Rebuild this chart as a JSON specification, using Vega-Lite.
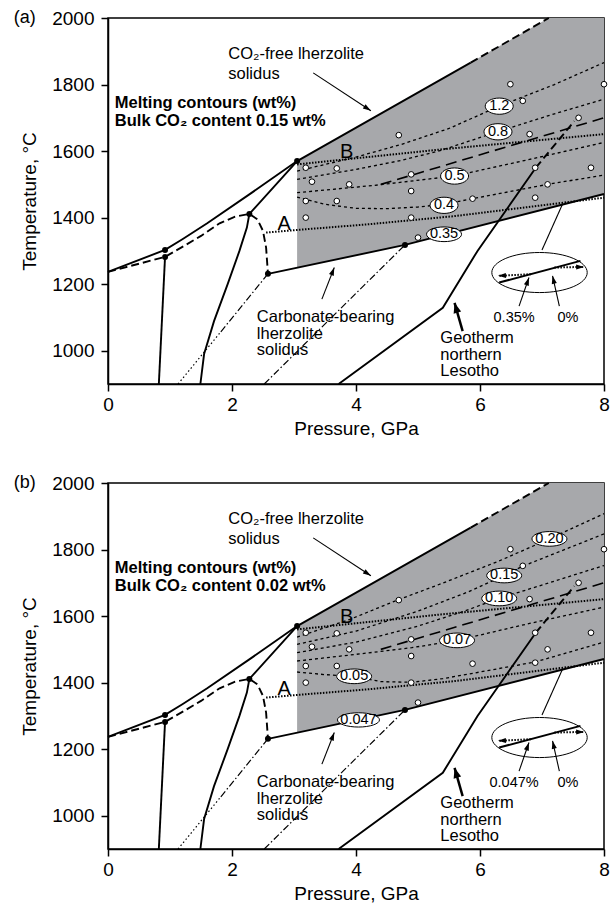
{
"$schema": "https://vega.github.io/schema/vega-lite/v6.json",
"padding": {"left": 13, "top": 8, "right": 2, "bottom": 2},
"data": {"values": [
{"panel":["a","b"],"id":"gray","p":3.05,"t":1570,"t2":1249.5},
{"panel":["a","b"],"id":"gray","p":4.79,"t":1753.9,"t2":1318},
{"panel":["a","b"],"id":"gray","p":7.11,"t":2000,"t2":1428.6},
{"panel":["a","b"],"id":"gray","p":8,"t":2000,"t2":1471},

{"panel":["a","b"],"id":"co2","i":0,"p":0,"t":1237},
{"panel":["a","b"],"id":"co2","i":1,"p":0.92,"t":1303},
{"panel":["a","b"],"id":"co2","i":2,"p":1.2,"t":1335},
{"panel":["a","b"],"id":"co2","i":3,"p":1.6,"t":1383},
{"panel":["a","b"],"id":"co2","i":4,"p":2.28,"t":1470},
{"panel":["a","b"],"id":"co2","i":5,"p":3.05,"t":1570},
{"panel":["a","b"],"id":"co2","i":6,"p":5.85,"t":1866},
{"panel":["a","b"],"id":"co2ext","i":0,"p":5.85,"t":1866},
{"panel":["a","b"],"id":"co2ext","i":1,"p":7.11,"t":2000},
{"panel":["a","b"],"id":"vert","i":0,"p":0.82,"t":900},
{"panel":["a","b"],"id":"vert","i":1,"p":0.92,"t":1282},
{"panel":["a","b"],"id":"curve","i":0,"p":1.49,"t":900},
{"panel":["a","b"],"id":"curve","i":1,"p":1.55,"t":990},
{"panel":["a","b"],"id":"curve","i":2,"p":1.71,"t":1089},
{"panel":["a","b"],"id":"curve","i":3,"p":1.93,"t":1200},
{"panel":["a","b"],"id":"curve","i":4,"p":2.12,"t":1300},
{"panel":["a","b"],"id":"curve","i":5,"p":2.24,"t":1370},
{"panel":["a","b"],"id":"curve","i":6,"p":2.28,"t":1411},
{"panel":["a","b"],"id":"curve","i":7,"p":3.05,"t":1570},
{"panel":["a","b"],"id":"carb","i":0,"p":2.58,"t":1231},
{"panel":["a","b"],"id":"carb","i":1,"p":4.79,"t":1318},
{"panel":["a","b"],"id":"carb","i":2,"p":8,"t":1471},
{"panel":["a","b"],"id":"geo","i":0,"p":3.72,"t":900},
{"panel":["a","b"],"id":"geo","i":1,"p":5.4,"t":1129},
{"panel":["a","b"],"id":"geo","i":2,"p":5.96,"t":1300},
{"panel":["a","b"],"id":"geo","i":3,"p":6.9,"t":1550},
{"panel":["a","b"],"id":"geoext","i":0,"p":6.9,"t":1550},
{"panel":["a","b"],"id":"geoext","i":1,"p":7.52,"t":1690},
{"panel":["a","b"],"id":"dcurve","i":0,"p":0,"t":1237},
{"panel":["a","b"],"id":"dcurve","i":1,"p":0.92,"t":1282},
{"panel":["a","b"],"id":"dcurve","i":2,"p":1.2,"t":1312},
{"panel":["a","b"],"id":"dcurve","i":3,"p":1.5,"t":1345},
{"panel":["a","b"],"id":"dcurve","i":4,"p":1.8,"t":1383},
{"panel":["a","b"],"id":"dcurve","i":5,"p":2.05,"t":1403},
{"panel":["a","b"],"id":"dcurve","i":6,"p":2.28,"t":1411},
{"panel":["a","b"],"id":"dcurve","i":7,"p":2.41,"t":1395},
{"panel":["a","b"],"id":"dcurve","i":8,"p":2.5,"t":1360},
{"panel":["a","b"],"id":"dcurve","i":9,"p":2.55,"t":1310},
{"panel":["a","b"],"id":"dcurve","i":10,"p":2.58,"t":1231},
{"panel":["a","b"],"id":"dd1","i":0,"p":1.82,"t":1057},
{"panel":["a","b"],"id":"dd1","i":1,"p":2.58,"t":1231},
{"panel":["a","b"],"id":"dt1","i":0,"p":1.13,"t":900},
{"panel":["a","b"],"id":"dt1","i":1,"p":1.82,"t":1057},
{"panel":["a","b"],"id":"dd2","i":0,"p":2.52,"t":900},
{"panel":["a","b"],"id":"dd2","i":1,"p":4.79,"t":1318},
{"panel":["a","b"],"id":"lineA","i":0,"p":2.55,"t":1355},
{"panel":["a","b"],"id":"lineA","i":1,"p":3.05,"t":1363},
{"panel":["a","b"],"id":"lineA","i":2,"p":4.2,"t":1380},
{"panel":["a","b"],"id":"lineA","i":3,"p":5.61,"t":1405},
{"panel":["a","b"],"id":"lineA","i":4,"p":8,"t":1460},
{"panel":["a","b"],"id":"lineB","i":0,"p":3.05,"t":1560},
{"panel":["a","b"],"id":"lineB","i":1,"p":5.37,"t":1605},
{"panel":["a","b"],"id":"lineB","i":2,"p":8,"t":1651},
{"panel":["a","b"],"id":"longdash","i":0,"p":4.4,"t":1500},
{"panel":["a","b"],"id":"longdash","i":1,"p":8,"t":1700},

{"panel":["a"],"id":"c1.2","i":0,"p":3.05,"t":1540},
{"panel":["a"],"id":"c1.2","i":1,"p":4.0,"t":1582},
{"panel":["a"],"id":"c1.2","i":2,"p":4.73,"t":1620},
{"panel":["a"],"id":"c1.2","i":3,"p":5.5,"t":1668},
{"panel":["a"],"id":"c1.2","i":4,"p":6.31,"t":1735},
{"panel":["a"],"id":"c1.2","i":5,"p":7.2,"t":1800},
{"panel":["a"],"id":"c1.2","i":6,"p":8,"t":1866},
{"panel":["a"],"id":"c0.8","i":0,"p":3.05,"t":1515},
{"panel":["a"],"id":"c0.8","i":1,"p":4.0,"t":1545},
{"panel":["a"],"id":"c0.8","i":2,"p":4.73,"t":1572},
{"panel":["a"],"id":"c0.8","i":3,"p":5.37,"t":1602},
{"panel":["a"],"id":"c0.8","i":4,"p":6.28,"t":1658},
{"panel":["a"],"id":"c0.8","i":5,"p":7.2,"t":1712},
{"panel":["a"],"id":"c0.8","i":6,"p":8,"t":1756},
{"panel":["a"],"id":"c0.5","i":0,"p":3.05,"t":1475},
{"panel":["a"],"id":"c0.5","i":1,"p":4.3,"t":1497},
{"panel":["a"],"id":"c0.5","i":2,"p":5.58,"t":1525},
{"panel":["a"],"id":"c0.5","i":3,"p":6.8,"t":1575},
{"panel":["a"],"id":"c0.5","i":4,"p":8,"t":1626},
{"panel":["a"],"id":"c0.4","i":0,"p":3.05,"t":1462},
{"panel":["a"],"id":"c0.4","i":1,"p":3.5,"t":1440},
{"panel":["a"],"id":"c0.4","i":2,"p":4.0,"t":1428},
{"panel":["a"],"id":"c0.4","i":3,"p":4.5,"t":1427},
{"panel":["a"],"id":"c0.4","i":4,"p":5.0,"t":1432},
{"panel":["a"],"id":"c0.4","i":5,"p":5.42,"t":1440},
{"panel":["a"],"id":"c0.4","i":6,"p":5.88,"t":1457},
{"panel":["a"],"id":"c0.4","i":7,"p":7.09,"t":1500},
{"panel":["a"],"id":"c0.4","i":8,"p":8,"t":1528},

{"panel":["b"],"id":"c0.20","i":0,"p":3.05,"t":1537},
{"panel":["b"],"id":"c0.20","i":1,"p":3.9,"t":1590},
{"panel":["b"],"id":"c0.20","i":2,"p":4.68,"t":1649},
{"panel":["b"],"id":"c0.20","i":3,"p":5.37,"t":1697},
{"panel":["b"],"id":"c0.20","i":4,"p":6.3,"t":1765},
{"panel":["b"],"id":"c0.20","i":5,"p":7.12,"t":1832},
{"panel":["b"],"id":"c0.20","i":6,"p":8,"t":1908},
{"panel":["b"],"id":"c0.15","i":0,"p":3.05,"t":1515},
{"panel":["b"],"id":"c0.15","i":1,"p":4.0,"t":1555},
{"panel":["b"],"id":"c0.15","i":2,"p":5.0,"t":1615},
{"panel":["b"],"id":"c0.15","i":3,"p":5.8,"t":1672},
{"panel":["b"],"id":"c0.15","i":4,"p":6.39,"t":1722},
{"panel":["b"],"id":"c0.15","i":5,"p":6.69,"t":1750},
{"panel":["b"],"id":"c0.15","i":6,"p":8,"t":1847},
{"panel":["b"],"id":"c0.10","i":0,"p":3.05,"t":1490},
{"panel":["b"],"id":"c0.10","i":1,"p":4.0,"t":1522},
{"panel":["b"],"id":"c0.10","i":2,"p":5.0,"t":1570},
{"panel":["b"],"id":"c0.10","i":3,"p":5.7,"t":1612},
{"panel":["b"],"id":"c0.10","i":4,"p":6.31,"t":1653},
{"panel":["b"],"id":"c0.10","i":5,"p":7.2,"t":1705},
{"panel":["b"],"id":"c0.10","i":6,"p":8,"t":1752},
{"panel":["b"],"id":"c0.07","i":0,"p":3.05,"t":1465},
{"panel":["b"],"id":"c0.07","i":1,"p":4.0,"t":1485},
{"panel":["b"],"id":"c0.07","i":2,"p":4.9,"t":1505},
{"panel":["b"],"id":"c0.07","i":3,"p":5.63,"t":1527},
{"panel":["b"],"id":"c0.07","i":4,"p":6.8,"t":1578},
{"panel":["b"],"id":"c0.07","i":5,"p":8,"t":1627},
{"panel":["b"],"id":"c0.05","i":0,"p":3.05,"t":1432},
{"panel":["b"],"id":"c0.05","i":1,"p":3.5,"t":1424},
{"panel":["b"],"id":"c0.05","i":2,"p":3.97,"t":1419},
{"panel":["b"],"id":"c0.05","i":3,"p":4.4,"t":1403},
{"panel":["b"],"id":"c0.05","i":4,"p":4.9,"t":1401},
{"panel":["b"],"id":"c0.05","i":5,"p":5.4,"t":1412},
{"panel":["b"],"id":"c0.05","i":6,"p":6.0,"t":1432},
{"panel":["b"],"id":"c0.05","i":7,"p":6.89,"t":1462},
{"panel":["b"],"id":"c0.05","i":8,"p":8,"t":1522},

{"panel":["a","b"],"id":"open","p":4.69,"t":1648},
{"panel":["a","b"],"id":"open","p":3.19,"t":1550},
{"panel":["a","b"],"id":"open","p":3.69,"t":1548},
{"panel":["a","b"],"id":"open","p":3.29,"t":1508},
{"panel":["a","b"],"id":"open","p":3.89,"t":1500},
{"panel":["a","b"],"id":"open","p":4.89,"t":1530},
{"panel":["a","b"],"id":"open","p":4.89,"t":1480},
{"panel":["a","b"],"id":"open","p":3.19,"t":1450},
{"panel":["a","b"],"id":"open","p":3.69,"t":1450},
{"panel":["a","b"],"id":"open","p":3.19,"t":1400},
{"panel":["a","b"],"id":"open","p":4.89,"t":1400},
{"panel":["a","b"],"id":"open","p":5.0,"t":1340},
{"panel":["a","b"],"id":"open","p":6.49,"t":1801},
{"panel":["a","b"],"id":"open","p":6.69,"t":1751},
{"panel":["a","b"],"id":"open","p":8.0,"t":1801},
{"panel":["a","b"],"id":"open","p":7.59,"t":1700},
{"panel":["a","b"],"id":"open","p":6.8,"t":1651},
{"panel":["a","b"],"id":"open","p":6.89,"t":1550},
{"panel":["a","b"],"id":"open","p":7.79,"t":1550},
{"panel":["a","b"],"id":"open","p":7.09,"t":1500},
{"panel":["a","b"],"id":"open","p":6.89,"t":1460},
{"panel":["a","b"],"id":"open","p":5.88,"t":1457},

{"panel":["a","b"],"id":"filled","p":0.92,"t":1303},
{"panel":["a","b"],"id":"filled","p":0.92,"t":1282},
{"panel":["a","b"],"id":"filled","p":2.28,"t":1411},
{"panel":["a","b"],"id":"filled","p":2.58,"t":1231},
{"panel":["a","b"],"id":"filled","p":3.05,"t":1570},
{"panel":["a","b"],"id":"filled","p":4.79,"t":1318},

{"panel":["a","b"],"id":"arrow","p":3.31,"t":1835,"p2":4.24,"t2":1721},
{"panel":["a","b"],"id":"arrow","p":3.45,"t":1155,"p2":3.65,"t2":1250},
{"panel":["a","b"],"id":"arrow","p":6.63,"t":1134,"p2":6.79,"t2":1220},
{"panel":["a","b"],"id":"arrow","p":7.28,"t":1134,"p2":7.17,"t2":1225},
{"panel":["a","b"],"id":"arrowthick","p":5.72,"t":1059,"p2":5.59,"t2":1144},
{"panel":["a","b"],"id":"arrowdot","p":6.82,"t":1230,"p2":6.29,"t2":1225},
{"panel":["a","b"],"id":"arrowdot","p":7.2,"t":1250,"p2":7.68,"t2":1252},
{"panel":["a","b"],"id":"pointer","p":7.0,"t":1303,"p2":7.33,"t2":1440},
{"panel":["a","b"],"id":"insetline","p":6.31,"t":1205,"p2":7.62,"t2":1270},
{"panel":["a","b"],"id":"ellipse","p":6.96,"t":1235},

{"panel":["a"],"id":"tag","p":-1.52,"t":2000,"label":"(a)"},
{"panel":["b"],"id":"tag","p":-1.52,"t":2000,"label":"(b)"},
{"panel":["a","b"],"id":"txt","p":1.94,"t":1892,"label":"CO₂-free lherzolite"},
{"panel":["a","b"],"id":"txt","p":1.94,"t":1833,"label":"solidus"},
{"panel":["a","b"],"id":"txt","p":2.4,"t":1100,"label":"Carbonate-bearing"},
{"panel":["a","b"],"id":"txt","p":2.4,"t":1051,"label":"lherzolite"},
{"panel":["a","b"],"id":"txt","p":2.4,"t":1002,"label":"solidus"},
{"panel":["a","b"],"id":"txt","p":5.36,"t":1037,"label":"Geotherm"},
{"panel":["a","b"],"id":"txt","p":5.36,"t":988,"label":"northern"},
{"panel":["a","b"],"id":"txt","p":5.36,"t":939,"label":"Lesotho"},
{"panel":["a","b"],"id":"bold","p":0.11,"t":1745,"label":"Melting contours (wt%)"},
{"panel":["a"],"id":"bold","p":0.11,"t":1691,"label":"Bulk CO₂ content 0.15 wt%"},
{"panel":["b"],"id":"bold","p":0.11,"t":1691,"label":"Bulk CO₂ content 0.02 wt%"},
{"panel":["a","b"],"id":"big","p":2.84,"t":1380,"label":"A"},
{"panel":["a","b"],"id":"big","p":3.85,"t":1598,"label":"B"},
{"panel":["a"],"id":"ilab","p":6.55,"t":1097,"label":"0.35%"},
{"panel":["b"],"id":"ilab","p":6.55,"t":1097,"label":"0.047%"},
{"panel":["a","b"],"id":"ilab","p":7.42,"t":1097,"label":"0%"},

{"panel":["a"],"id":"clab","p":6.31,"t":1735,"label":"1.2"},
{"panel":["a"],"id":"clab","p":6.29,"t":1658,"label":"0.8"},
{"panel":["a"],"id":"clab","p":5.59,"t":1525,"label":"0.5"},
{"panel":["a"],"id":"clab","p":5.42,"t":1437,"label":"0.4"},
{"panel":["a"],"id":"clab","p":5.42,"t":1350,"label":"0.35"},
{"panel":["b"],"id":"clab","p":7.12,"t":1832,"label":"0.20"},
{"panel":["b"],"id":"clab","p":6.39,"t":1722,"label":"0.15"},
{"panel":["b"],"id":"clab","p":6.31,"t":1653,"label":"0.10"},
{"panel":["b"],"id":"clab","p":5.63,"t":1527,"label":"0.07"},
{"panel":["b"],"id":"clab","p":3.97,"t":1419,"label":"0.05"},
{"panel":["b"],"id":"clab","p":4.04,"t":1288,"label":"0.047"}
]},
"transform": [{"flatten": ["panel"]}],
"facet": {"row": {"field": "panel", "type": "nominal", "header": {"title": null, "labels": false}}},
"spacing": 99,
"bounds": "flush",
"resolve": {"axis": {"x": "independent", "y": "independent"}},
"spec": {
  "width": 496,
  "height": 366,
  "encoding": {
    "x": {"field": "p", "type": "quantitative", "scale": {"domain": [0, 8], "nice": false, "zero": false},
          "axis": {"values": [0, 2, 4, 6, 8], "format": "d", "title": "Pressure, GPa"}},
    "y": {"field": "t", "type": "quantitative", "scale": {"domain": [900, 2000], "nice": false, "zero": false},
          "axis": {"values": [1000, 1200, 1400, 1600, 1800, 2000], "format": "d", "title": "Temperature, °C"}}
  },
  "layer": [
    {"transform": [{"filter": "datum.id == 'gray'"}],
     "mark": {"type": "area", "color": "#a7a8ab", "opacity": 1},
     "encoding": {"y2": {"field": "t2"}}},
    {"transform": [{"filter": {"field": "id", "oneOf": ["c1.2","c0.8","c0.5","c0.4","c0.20","c0.15","c0.10","c0.07","c0.05"]}}],
     "mark": {"type": "line", "color": "black", "strokeWidth": 1.3, "strokeDash": [3, 3]},
     "encoding": {"detail": {"field": "id"}, "order": {"field": "i"}}},
    {"transform": [{"filter": {"field": "id", "oneOf": ["lineA","lineB"]}}],
     "mark": {"type": "line", "color": "black", "strokeWidth": 2, "strokeDash": [1.5, 1.5]},
     "encoding": {"detail": {"field": "id"}, "order": {"field": "i"}}},
    {"transform": [{"filter": "datum.id == 'longdash'"}],
     "mark": {"type": "line", "color": "black", "strokeWidth": 1.6, "strokeDash": [11, 6]},
     "encoding": {"detail": {"field": "id"}, "order": {"field": "i"}}},
    {"transform": [{"filter": {"field": "id", "oneOf": ["co2","vert","curve","carb","geo"]}}],
     "mark": {"type": "line", "color": "black", "strokeWidth": 1.9},
     "encoding": {"detail": {"field": "id"}, "order": {"field": "i"}}},
    {"transform": [{"filter": {"field": "id", "oneOf": ["co2ext","dcurve","geoext"]}}],
     "mark": {"type": "line", "color": "black", "strokeWidth": 1.9, "strokeDash": [8, 4]},
     "encoding": {"detail": {"field": "id"}, "order": {"field": "i"}}},
    {"transform": [{"filter": {"field": "id", "oneOf": ["dd1","dd2"]}}],
     "mark": {"type": "line", "color": "black", "strokeWidth": 1.2, "strokeDash": [7, 2.5, 1.5, 2.5]},
     "encoding": {"detail": {"field": "id"}, "order": {"field": "i"}}},
    {"transform": [{"filter": "datum.id == 'dt1'"}],
     "mark": {"type": "line", "color": "black", "strokeWidth": 1.2, "strokeDash": [1.5, 2.5]},
     "encoding": {"detail": {"field": "id"}, "order": {"field": "i"}}},
    {"transform": [{"filter": "datum.id == 'open'"}],
     "mark": {"type": "point", "shape": "circle", "filled": true, "fill": "white", "stroke": "black", "strokeWidth": 1, "size": 32, "opacity": 1},
     "encoding": {}},
    {"transform": [{"filter": "datum.id == 'filled'"}],
     "mark": {"type": "point", "shape": "circle", "filled": true, "color": "black", "size": 36, "opacity": 1},
     "encoding": {}},
    {"transform": [{"filter": "datum.id == 'ellipse'"}],
     "mark": {"type": "point", "shape": "M-1,0A1,0.42,0,1,1,1,0A1,0.42,0,1,1,-1,0Z", "filled": false, "stroke": "black", "strokeWidth": 1, "size": 9100, "opacity": 1},
     "encoding": {}},
    {"transform": [{"filter": "datum.id == 'insetline'"}],
     "mark": {"type": "rule", "color": "black", "strokeWidth": 2},
     "encoding": {"x2": {"field": "p2"}, "y2": {"field": "t2"}}},
    {"transform": [{"filter": "datum.id == 'arrow' || datum.id == 'pointer'"}],
     "mark": {"type": "rule", "color": "black", "strokeWidth": 1.1},
     "encoding": {"x2": {"field": "p2"}, "y2": {"field": "t2"}}},
    {"transform": [{"filter": "datum.id == 'arrowthick'"}],
     "mark": {"type": "rule", "color": "black", "strokeWidth": 2.5},
     "encoding": {"x2": {"field": "p2"}, "y2": {"field": "t2"}}},
    {"transform": [{"filter": "datum.id == 'arrowdot'"}],
     "mark": {"type": "rule", "color": "black", "strokeWidth": 2, "strokeDash": [1.5, 1.5]},
     "encoding": {"x2": {"field": "p2"}, "y2": {"field": "t2"}}},
    {"transform": [{"filter": "datum.id == 'arrow' || datum.id == 'arrowdot'"}],
     "mark": {"type": "point", "shape": "M0,0L0.32,1L-0.32,1Z", "filled": true, "color": "black", "size": 256, "opacity": 1,
              "angle": {"expr": "atan2(scale('x', datum.p2) - scale('x', datum.p), scale('y', datum.t) - scale('y', datum.t2)) * 180 / PI"}},
     "encoding": {"x": {"field": "p2", "type": "quantitative"}, "y": {"field": "t2", "type": "quantitative"}}},
    {"transform": [{"filter": "datum.id == 'arrowthick'"}],
     "mark": {"type": "point", "shape": "M0,0L0.38,1L-0.38,1Z", "filled": true, "color": "black", "size": 420, "opacity": 1,
              "angle": {"expr": "atan2(scale('x', datum.p2) - scale('x', datum.p), scale('y', datum.t) - scale('y', datum.t2)) * 180 / PI"}},
     "encoding": {"x": {"field": "p2", "type": "quantitative"}, "y": {"field": "t2", "type": "quantitative"}}},
    {"transform": [{"filter": "datum.id == 'clab' && length(datum.label) <= 3"}],
     "mark": {"type": "point", "shape": "M-1,0A1,0.58,0,1,1,1,0A1,0.58,0,1,1,-1,0Z", "filled": true, "fill": "white", "stroke": "black", "strokeWidth": 1, "size": 784, "opacity": 1},
     "encoding": {}},
    {"transform": [{"filter": "datum.id == 'clab' && length(datum.label) == 4"}],
     "mark": {"type": "point", "shape": "M-1,0A1,0.42,0,1,1,1,0A1,0.42,0,1,1,-1,0Z", "filled": true, "fill": "white", "stroke": "black", "strokeWidth": 1, "size": 1225, "opacity": 1},
     "encoding": {}},
    {"transform": [{"filter": "datum.id == 'clab' && length(datum.label) >= 5"}],
     "mark": {"type": "point", "shape": "M-1,0A1,0.34,0,1,1,1,0A1,0.34,0,1,1,-1,0Z", "filled": true, "fill": "white", "stroke": "black", "strokeWidth": 1, "size": 1764, "opacity": 1},
     "encoding": {}},
    {"transform": [{"filter": "datum.id == 'clab'"}],
     "mark": {"type": "text", "fontSize": 14.5, "align": "center", "baseline": "middle", "color": "black"},
     "encoding": {"text": {"field": "label"}}},
    {"transform": [{"filter": "datum.id == 'ilab'"}],
     "mark": {"type": "text", "fontSize": 14.5, "align": "center", "baseline": "middle", "color": "black"},
     "encoding": {"text": {"field": "label"}}},
    {"transform": [{"filter": "datum.id == 'txt'"}],
     "mark": {"type": "text", "fontSize": 16.5, "align": "left", "baseline": "middle", "color": "black"},
     "encoding": {"text": {"field": "label"}}},
    {"transform": [{"filter": "datum.id == 'bold'"}],
     "mark": {"type": "text", "fontSize": 16.5, "fontWeight": "bold", "align": "left", "baseline": "middle", "color": "black"},
     "encoding": {"text": {"field": "label"}}},
    {"transform": [{"filter": "datum.id == 'big'"}],
     "mark": {"type": "text", "fontSize": 20, "align": "center", "baseline": "middle", "color": "black"},
     "encoding": {"text": {"field": "label"}}},
    {"transform": [{"filter": "datum.id == 'tag'"}],
     "mark": {"type": "text", "fontSize": 18, "align": "left", "baseline": "middle", "color": "black"},
     "encoding": {"text": {"field": "label"}}}
  ]
},
"config": {
  "font": "Liberation Sans",
  "view": {"stroke": "black", "strokeWidth": 1.5},
  "axis": {"domainColor": "black", "domainWidth": 1.5, "tickColor": "black", "tickWidth": 1.5, "tickSize": 7,
           "labelFontSize": 19, "titleFontSize": 19, "labelColor": "black", "titleColor": "black",
           "titleFontWeight": "normal", "grid": false, "labelFlush": false, "labelOverlap": false,
           "labelPadding": 4, "titlePadding": 5, "labelFont": "Liberation Sans", "titleFont": "Liberation Sans"},
  "axisY": {"labelPadding": 7, "titlePadding": 12}
}
}
